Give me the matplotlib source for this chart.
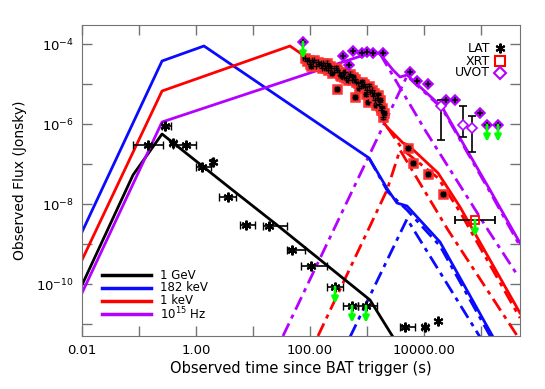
import matplotlib
matplotlib.use("Agg")
import matplotlib.pyplot as plt
import numpy as np

BLACK = "black"
BLUE = "#0a0aff"
RED = "#ff0000"
PURPLE = "#b400ff"
GREEN = "#00ff00"

# model curves, (log10 t, log10 F)
gev_t = [-2.0, -1.105, -0.596, 0.596, 1.421, 3.053, 3.456]
gev_f = [-10.025, -7.275, -6.25, -7.6, -8.525, -10.4, -11.325]

kev182_t = [-2.0, -0.596, 0.14, 3.035, 3.368, 3.526, 3.702, 4.281, 5.211]
kev182_f = [-8.7, -4.425, -4.05, -6.85, -7.65, -7.975, -8.05, -8.95, -11.325]

kev1_t = [-2.0, -0.596, 1.649, 1.877, 2.754, 3.053, 3.228, 3.351, 3.632, 3.72, 4.246, 4.632, 4.86, 5.684]
kev1_f = [-9.4, -5.175, -4.05, -4.275, -4.825, -5.325, -5.825, -6.075, -6.475, -6.525, -7.225, -8.075, -8.65, -10.725]

opt_t = [-2.0, -0.596, 3.053, 3.088, 3.23, 3.456, 3.579, 3.702, 4.316, 5.158, 5.684]
opt_f = [-10.225, -5.95, -4.225, -4.175, -4.25, -4.65, -4.825, -4.775, -5.575, -7.65, -8.975]

# dash-dot components (reverse shock rise/decay, forward shock tail)
rs_opt_t = [1.526, 3.702, 4.316, 5.158, 5.684]
rs_opt_f = [-11.3, -4.8, -5.61, -7.7, -9.05]
fs_opt_t = [3.23, 4.018, 5.123, 5.649]
fs_opt_f = [-4.25, -6.15, -8.65, -9.8]

rs_x_t = [2.14, 3.351, 3.579, 4.421, 5.649]
rs_x_f = [-11.3, -7.65, -6.65, -8.65, -11.325]
fs_x_t = [3.351, 3.632, 4.246, 4.632, 5.684]
fs_x_f = [-6.075, -6.65, -7.35, -8.2, -10.85]

rs_b_t = [2.702, 3.702, 4.982]
rs_b_f = [-11.325, -8.375, -11.325]
fs_b_t = [3.035, 3.368, 3.702, 4.281, 5.17]
fs_b_f = [-6.85, -7.7, -8.15, -9.05, -11.325]

# LAT points
lat_t = [-0.544, -0.842, -0.404, -0.175, 0.105, 0.298, 0.561, 0.877, 1.281, 1.684, 2.018]
lat_f = [-6.05, -6.525, -6.475, -6.525, -7.075, -6.95, -7.825, -8.525, -8.55, -9.15, -9.55]
lat_lo = [-0.596, -1.105, -0.45, -0.404, 0.0, 0.263, 0.404, 0.772, 1.175, 1.596, 1.842]
lat_hi = [-0.439, -0.579, -0.35, 0.0, 0.263, 0.316, 0.702, 1.035, 1.596, 1.912, 2.298]
lat_ul_t = [2.439, 2.737, 2.982, 3.667, 4.018, 4.246]
lat_ul_f = [-10.075, -10.55, -10.55, -11.075, -11.075, -10.925]
lat_ul_lo = [2.298, 2.579, 2.842, 3.579, 3.96, 4.246]
lat_ul_hi = [2.579, 2.842, 3.175, 3.842, 4.07, 4.246]

# XRT points
xrt_t = [1.947, 2.0, 2.053, 2.105, 2.158, 2.211, 2.263, 2.316, 2.368, 2.421, 2.474, 2.474,
         2.526, 2.579, 2.632, 2.684, 2.737, 2.789, 2.789, 2.842, 2.895, 2.947, 3.0, 3.018,
         3.053, 3.105, 3.14, 3.175, 3.211, 3.246, 3.281,
         1.912, 1.982, 2.018, 2.070, 2.140, 2.193, 2.228, 2.281, 2.298, 2.351, 2.386, 2.456,
         2.509, 2.544, 2.596, 2.614, 2.667, 2.702, 2.754, 2.807, 2.860, 2.912, 2.965, 2.982,
         3.035, 3.088, 3.123, 3.158, 3.193, 3.228, 3.263, 3.298,
         3.72, 3.807, 4.07, 4.333]
xrt_f = [-4.425, -4.5, -4.45, -4.55, -4.5, -4.6, -4.55, -4.65, -4.6, -4.7, -4.65, -5.125,
         -4.775, -4.725, -4.85, -4.8, -4.9, -4.875, -5.325, -4.975, -5.05, -5.0, -5.15, -5.45,
         -5.2, -5.3, -5.4, -5.35, -5.5, -5.65, -5.825,
         -4.35, -4.4, -4.55, -4.4, -4.45, -4.525, -4.475, -4.6, -4.475, -4.55, -4.725, -4.6,
         -4.7, -4.8, -4.825, -4.7, -4.9, -4.75, -4.825, -4.95, -5.1, -4.95, -5.075, -5.25,
         -5.05, -5.15, -5.225, -5.525, -5.275, -5.4, -5.6, -5.725,
         -6.6, -6.975, -7.25, -7.75]
xrt_ul_t = [4.895]
xrt_ul_f = [-8.4]
xrt_ul_lo = [4.544]
xrt_ul_hi = [5.246]

# UVOT points
uvot_t = [2.579, 2.754, 2.684, 2.912, 3.0, 3.1, 3.281, 3.754, 3.877, 4.07, 4.386, 4.544, 4.982]
uvot_f = [-4.3, -4.175, -4.525, -4.225, -4.2, -4.225, -4.225, -4.7, -4.925, -5.0, -5.4, -5.4, -5.725]
uvot_open_t = [4.298, 4.684, 4.842]
uvot_open_f = [-5.55, -6.025, -6.1]
uvot_open_up = [-5.4, -5.55, -5.8]
uvot_open_dn = [-6.4, -6.325, -6.7]
uvot_ul_t = [1.877, 5.105, 5.298]
uvot_ul_f = [-3.95, -6.025, -6.025]

band_labels = ["1 GeV", "182 keV", "1 keV", r"10$^{15}$ Hz"]
band_colors = [BLACK, BLUE, RED, PURPLE]


def p(a):
    return 10 ** np.asarray(a, dtype=float)


fig = plt.figure(figsize=(5.45, 3.89), dpi=100)
ax = fig.add_axes([82 / 545, 53 / 389, 438 / 545, 311 / 389])
ax.set_xscale("log")
ax.set_yscale("log")

lw = 2.0
dd = (0, (5, 2, 1.5, 2))
ax.plot(p(rs_opt_t), p(rs_opt_f), color=PURPLE, lw=lw, ls=dd)
ax.plot(p(fs_opt_t), p(fs_opt_f), color=PURPLE, lw=lw, ls=dd)
ax.plot(p(rs_x_t), p(rs_x_f), color=RED, lw=lw, ls=dd)
ax.plot(p(fs_x_t), p(fs_x_f), color=RED, lw=lw, ls=dd)
ax.plot(p(rs_b_t), p(rs_b_f), color=BLUE, lw=lw, ls=dd)
ax.plot(p(fs_b_t), p(fs_b_f), color=BLUE, lw=lw, ls=dd)

ax.plot(p(gev_t), p(gev_f), color=BLACK, lw=lw)
ax.plot(p(kev182_t), p(kev182_f), color=BLUE, lw=lw)
ax.plot(p(kev1_t), p(kev1_f), color=RED, lw=lw)
ax.plot(p(opt_t), p(opt_f), color=PURPLE, lw=lw)


def arrows(ts, fs):
    for t, f in zip(ts, fs):
        ax.annotate("", xy=(p(t), p(f - 0.42)), xytext=(p(t), p(f)),
                    arrowprops=dict(arrowstyle="-|>", color=GREEN, lw=2, mutation_scale=9,
                                    shrinkA=0, shrinkB=0))


arrows(lat_ul_t, lat_ul_f)
arrows(xrt_ul_t, xrt_ul_f)
arrows(uvot_ul_t, uvot_ul_f)

# XRT
ax.plot(p(xrt_t), p(xrt_f), ls="none", marker="s", ms=6, mec="#ff3030", mew=1.8, mfc="black")
ax.plot(p(xrt_t), p(xrt_f), ls="none", marker="+", ms=4, mec="black", mew=1)
ax.errorbar(p(xrt_ul_t), p(xrt_ul_f),
            xerr=[p(xrt_ul_t) - p(xrt_ul_lo), p(xrt_ul_hi) - p(xrt_ul_t)],
            fmt="s", ms=6, mec=RED, mfc="none", mew=1.3, ecolor="black", elinewidth=1.2, capsize=3)

# UVOT
ax.plot(p(uvot_t), p(uvot_f), ls="none", marker="D", ms=5, mec=PURPLE, mfc=PURPLE, mew=1.2)
ax.plot(p(uvot_t), p(uvot_f), ls="none", marker="+", ms=5, mec="black", mew=1.2)
ax.plot(p(uvot_ul_t), p(uvot_ul_f), ls="none", marker="D", ms=5, mec=PURPLE, mfc=PURPLE, mew=1.2)
ax.plot(p(uvot_ul_t), p(uvot_ul_f), ls="none", marker="+", ms=5, mec="black", mew=1.2)
uo = p(uvot_open_f)
ax.errorbar(p(uvot_open_t), uo, yerr=[uo - p(uvot_open_dn), p(uvot_open_up) - uo],
            fmt="D", ms=5, mec=PURPLE, mfc="white", mew=1.2, ecolor="black", elinewidth=1.2, capsize=3)

# LAT
lt = p(lat_t)
ax.errorbar(lt, p(lat_f), xerr=[lt - p(lat_lo), p(lat_hi) - lt], fmt="none",
            ecolor="black", elinewidth=1.2, capsize=3)
ax.plot(lt, p(lat_f), ls="none", marker=(6, 2, 0), ms=7, mec="black", mew=1.5)
ut = p(lat_ul_t)
ax.errorbar(ut, p(lat_ul_f), xerr=[ut - p(lat_ul_lo), p(lat_ul_hi) - ut], fmt="none",
            ecolor="black", elinewidth=1.2, capsize=3)
ax.plot(ut, p(lat_ul_f), ls="none", marker=(6, 2, 0), ms=7, mec="black", mew=1.5)

ax.set_xlim(0.01, 10 ** 5.684)
ax.set_ylim(10 ** -11.3, 10 ** -3.525)

ax.set_xticks([0.01, 1, 100, 10000])
ax.set_xticklabels(["0.01", "1.00", "100.00", "10000.00"])
ax.set_xticks([0.1, 10, 1000, 1e5], minor=True)
ax.set_xticklabels([], minor=True)
ax.set_yticks([1e-10, 1e-8, 1e-6, 1e-4])
ax.set_yticklabels([r"10$^{-10}$", r"10$^{-8}$", r"10$^{-6}$", r"10$^{-4}$"])
ax.set_yticks([1e-11, 1e-9, 1e-7, 1e-5], minor=True)
ax.set_yticklabels([], minor=True)
ax.tick_params(which="both", direction="in", top=True, right=True, length=7,
               width=1, color="0.45", labelsize=9.5, pad=6)
for s in ax.spines.values():
    s.set_color("0.45")

ax.set_xlabel("Observed time since BAT trigger (s)", fontsize=10.5, labelpad=3)
ax.set_ylabel("Observed Flux (Jonsky)", fontsize=10, labelpad=6)

# band legend (lower left)
leg_y = [0.196, 0.155, 0.114, 0.071]
for lab, c, y in zip(band_labels, band_colors, leg_y):
    ax.plot([0.046, 0.158], [y, y], color=c, lw=2.5, transform=ax.transAxes)
    ax.text(0.178, y, lab, transform=ax.transAxes, fontsize=8.5, va="center", ha="left")

# instrument legend (upper right)
ax.text(0.932, 0.926, "LAT", transform=ax.transAxes, fontsize=9, va="center", ha="right")
ax.text(0.932, 0.884, "XRT", transform=ax.transAxes, fontsize=9, va="center", ha="right")
ax.text(0.932, 0.846, "UVOT", transform=ax.transAxes, fontsize=9, va="center", ha="right")
ax.plot([0.954], [0.926], ls="none", marker=(6, 2, 0), ms=7, mec="black", mew=1.5, transform=ax.transAxes)
ax.plot([0.954], [0.884], ls="none", marker="s", ms=7, mec=RED, mfc="none", mew=1.5, transform=ax.transAxes)
ax.plot([0.954], [0.846], ls="none", marker="D", ms=6, mec=PURPLE, mfc="none", mew=1.5, transform=ax.transAxes)

fig.savefig("out.png", dpi=100)
